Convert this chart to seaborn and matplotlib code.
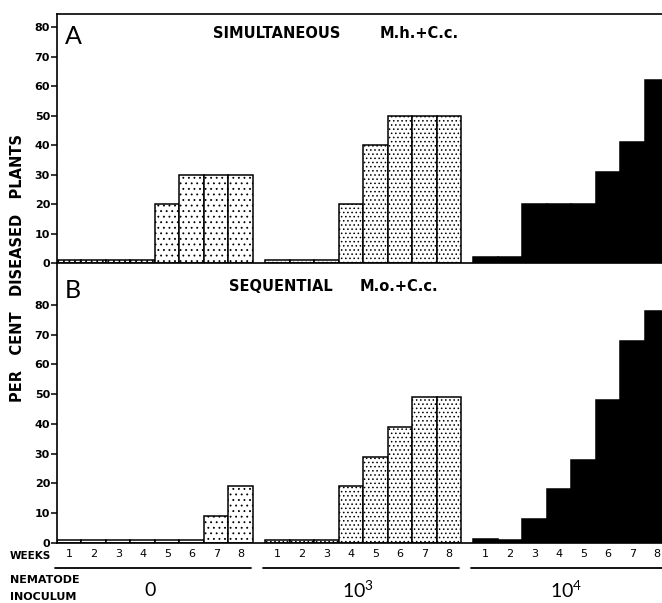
import matplotlib
matplotlib.use("Agg")
import matplotlib.pyplot as plt
import matplotlib.transforms as mtransforms
import numpy as np
import pandas as pd
import seaborn as sns

# ---------------- data ----------------
weeks = [1, 2, 3, 4, 5, 6, 7, 8]
inocula = ["0", "10³", "10⁴"]
inocula_math = [r"$\mathregular{0}$", r"$\mathregular{10^{3}}$", r"$\mathregular{10^{4}}$"]

simultaneous_0 = [1, 1, 1, 1, 20, 30, 30, 30]
simultaneous_1e3 = [1, 1, 1, 20, 40, 50, 50, 50]
simultaneous_1e4 = [2, 2, 20, 20, 20, 31, 41, 62]

sequential_0 = [1, 1, 1, 1, 1, 1, 9, 19]
sequential_1e3 = [1, 1, 1, 19, 29, 39, 49, 49]
sequential_1e4 = [1.5, 1, 8, 18, 28, 48, 68, 78]

panel_a_title = ("SIMULTANEOUS", "M.h.+C.c.")
panel_b_title = ("SEQUENTIAL", "M.o.+C.c.")
y_ticks = [0, 10, 20, 30, 40, 50, 60, 70, 80]

GROUP_STRIDE = 8.5


def make_frame(series):
    rows = []
    for g, (inoc, vals) in enumerate(zip(inocula, series)):
        for w, v in zip(weeks, vals):
            rows.append({"inoculum": inoc, "week": w,
                         "pos": g * GROUP_STRIDE + (w - 1), "pct": v})
    return pd.DataFrame(rows)


df_a = make_frame([simultaneous_0, simultaneous_1e3, simultaneous_1e4])
df_b = make_frame([sequential_0, sequential_1e3, sequential_1e4])

# ---------------- style ----------------
sns.set_style("ticks")
plt.rcParams["font.family"] = ["DejaVu Sans"]
plt.rcParams["hatch.linewidth"] = 0.6
plt.rcParams["mathtext.fontset"] = "custom"
plt.rcParams["mathtext.rm"] = "Lato"
for k in ["text.color", "axes.labelcolor", "xtick.color", "ytick.color",
          "axes.edgecolor"]:
    plt.rcParams[k] = "black"

W, H = 662, 603
fig = plt.figure(figsize=(W / 100, H / 100), dpi=100)


def fx(x):
    return x / W


def fy(y):
    return 1 - y / H


left = fx(57)
ax_a = fig.add_axes([left, fy(263), 1 - left, fy(14) - fy(263)])
ax_b = fig.add_axes([left, fy(543), 1 - left, fy(263) - fy(543)])

palette = {"0": "white", "10³": "white", "10⁴": "black"}
hatches = ["...", "....", ""]

for ax, df, ytop in [(ax_a, df_a, 84.5), (ax_b, df_b, 94.1)]:
    sns.barplot(data=df, x="pos", y="pct", hue="inoculum", hue_order=inocula,
                native_scale=True, width=1, dodge=False, palette=palette,
                saturation=1, edgecolor="black", linewidth=1.1,
                errorbar=None, legend=False, ax=ax)
    for cont, h in zip(ax.containers, hatches):
        for bar in cont:
            bar.set_hatch(h)
    ax.set_xlim(-0.5, 24.2)
    ax.set_ylim(0, ytop)
    ax.set_yticks(y_ticks)
    ax.set_yticklabels([str(t) for t in y_ticks], fontsize=8, fontweight="bold")
    ax.tick_params(axis="y", direction="out", length=4, width=1.1, pad=1)
    ax.set_xlabel("")
    ax.set_ylabel("")
    ax.spines["right"].set_visible(False)
    for s in ["left", "bottom", "top"]:
        ax.spines[s].set_linewidth(1.2)
    ax.patch.set_alpha(0)

ax_b.spines["top"].set_visible(False)
ax_a.set_xticks([])

# week labels under panel B
positions = df_b["pos"].tolist()
ax_b.set_xticks(positions)
ax_b.set_xticklabels([str(w) for w in df_b["week"]], fontsize=8)
ax_b.tick_params(axis="x", length=0, pad=4)

# group underlines and inoculum labels
trans = mtransforms.blended_transform_factory(ax_b.transData, ax_b.transAxes)
y_line = (543 - 568) / (543 - 263)
y_lab = (543 - 590) / (543 - 263)
thin = ["Lato", "DejaVu Sans"]
for g, lab in enumerate(inocula_math):
    x0 = g * GROUP_STRIDE - 0.6
    x1 = g * GROUP_STRIDE + 7.4
    ax_b.plot([x0, x1], [y_line, y_line], color="black", lw=1.3,
              transform=trans, clip_on=False)
    ax_b.text(g * GROUP_STRIDE + 3.3, y_lab, lab, transform=trans,
              ha="center", va="center", fontsize=14, family=thin)

# panel letters and titles
fig.text(fx(65), fy(36), "A", fontsize=18, family=thin, ha="left", va="center")
fig.text(fx(65), fy(290), "B", fontsize=18, family=thin, ha="left", va="center")
fig.text(fx(213), fy(33), panel_a_title[0], fontsize=10.5, fontweight="bold",
         ha="left", va="center")
fig.text(fx(380), fy(33), panel_a_title[1], fontsize=10.5, fontweight="bold",
         ha="left", va="center")
fig.text(fx(229), fy(287), panel_b_title[0], fontsize=10.5, fontweight="bold",
         ha="left", va="center")
fig.text(fx(360), fy(287), panel_b_title[1], fontsize=10.5, fontweight="bold",
         ha="left", va="center")

# y label
fig.text(fx(18), fy(268), "PER   CENT   DISEASED   PLANTS", rotation=90,
         fontsize=10.5, fontweight="bold", ha="center", va="center")

# bottom left labels
fig.text(fx(10), fy(556), "WEEKS", fontsize=7.5, fontweight="bold",
         ha="left", va="center")
fig.text(fx(10), fy(580), "NEMATODE", fontsize=8, fontweight="bold",
         ha="left", va="center")
fig.text(fx(10), fy(597), "INOCULUM", fontsize=8, fontweight="bold",
         ha="left", va="center")

fig.savefig("out.png", dpi=100)
